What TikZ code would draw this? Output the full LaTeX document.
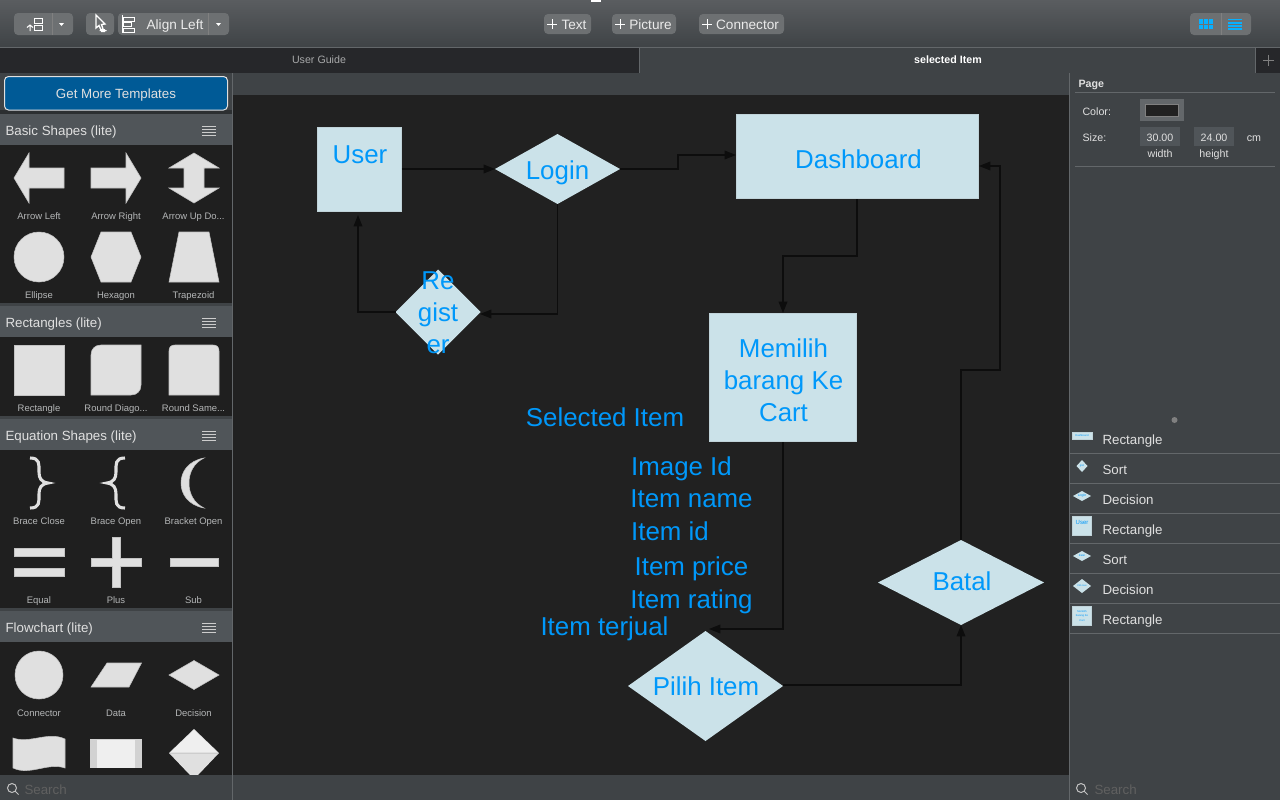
\documentclass[tikz,border=0pt]{standalone}
\usepackage{fontspec}
\setmainfont{Liberation Sans}
\usetikzlibrary{shapes.geometric,arrows.meta}

\definecolor{canvasdark}{HTML}{212121}
\definecolor{paneldark}{HTML}{1F1F1F}
\definecolor{panelgrey}{HTML}{3F4346}
\definecolor{headgrey}{HTML}{505559}
\definecolor{tabdark}{HTML}{26272A}
\definecolor{bartop}{HTML}{5A5D60}
\definecolor{barline}{HTML}{63676A}
\definecolor{btngrey}{HTML}{6D7072}
\definecolor{morebtn}{HTML}{005A96}
\definecolor{shapefill}{HTML}{CBE2E9}
\definecolor{shapetext}{HTML}{0098FA}
\definecolor{iconfill}{HTML}{E0E0E0}
\definecolor{labelgrey}{HTML}{B4B6B7}
\definecolor{toggleblue}{HTML}{08B0FF}

\tikzset{every picture/.style={line width=0.75pt}}
\tikzset{
  oneline/.style={text height=0.72*#1pt,text depth=0pt},
  flowbox/.style 2 args={rectangle,fill=shapefill,draw=shapefill!85!gray,line width=0.4pt,inner sep=0pt,outer sep=0pt,minimum width=#1*0.75pt,minimum height=#2*0.75pt},
  flowdiamond/.style 2 args={diamond,fill=shapefill,inner sep=0pt,outer sep=0pt,minimum width=#1*0.75pt,minimum height=#2*0.75pt},
  flowtext/.style={text=shapetext,inner sep=0pt,align=center,font=\fontsize{19.4}{24}\selectfont},
  flowline/.style={flowtext,oneline=19.4},
  conn/.style={draw=black!95,line width=1pt,-{Triangle[length=8.5pt,width=6.5pt]}},
  icon/.style={fill=iconfill,draw=iconfill!70!gray,line width=0.4pt},
  iconlabel/.style={oneline=7.1,text=labelgrey,inner sep=0pt,font=\fontsize{7.1}{8}\selectfont},
  headlabel/.style={oneline=10,text=iconfill,inner sep=0pt,anchor=west,font=\fontsize{10}{12}\selectfont},
  listlabel/.style={oneline=10,text=iconfill,inner sep=0pt,anchor=west,font=\fontsize{10}{12}\selectfont},
  pagelabel/.style={oneline=8,text=iconfill,inner sep=0pt,font=\fontsize{8}{10}\selectfont},
  barlabel/.style={oneline=10.2,text=white!92!black,inner sep=0pt,font=\fontsize{10.2}{12}\selectfont},
  searchlabel/.style={oneline=10,text=gray!75!black,inner sep=0pt,anchor=west,font=\fontsize{10}{12}\selectfont},
  thumbtext/.style={text=shapetext,inner sep=0pt,align=center},
  btn/.style={fill=btngrey,rounded corners=3pt,draw=none},
}

\begin{document}
\begin{tikzpicture}[x=0.75pt,y=0.75pt,yscale=-1,xscale=1]
\useasboundingbox (0,0) rectangle (1280,800);

%Shape: window backgrounds
\fill [panelgrey] (0,0) rectangle (1280,800);
\shade [top color=bartop,bottom color=panelgrey] (0,0) rectangle (1280,47);
\fill [white] (591,0) rectangle (601,2);
\draw [barline] (0,47.5) -- (1280,47.5);
\fill [tabdark] (0,48) rectangle (639,73);
\fill [tabdark] (1256,48) rectangle (1280,73);
\draw [barline] (639.5,48) -- (639.5,73);
\draw [barline] (1255.5,48) -- (1255.5,73);
\draw [gray] (1263,60) -- (1274,60) (1268.5,54.5) -- (1268.5,65.5);
\fill [canvasdark] (233,95) rectangle (1069,775);
\draw [barline] (232.5,73) -- (232.5,800);
\draw [barline] (1069.5,73) -- (1069.5,800);

%Shape: toolbar buttons
\fill [btn] (14,13) rectangle (73,35);
\fill [btn] (86,13) rectangle (114,35);
\fill [btn] (118,13) rectangle (229,35);
\draw [gray] (52.5,13) -- (52.5,35);
\draw [gray] (208.5,13) -- (208.5,35);
\draw [white] (34,18.5) -- (42,18.5) -- (42,23) -- (34,23) -- cycle (34,25.5) -- (42,25.5) -- (42,30) -- (34,30) -- cycle;
\draw [white] (30,31) -- (30,25) (27,27.5) -- (30,25) -- (33,27.5);
\fill [white] (59,23) -- (64,23) -- (61.5,26) -- cycle;
\fill [white] (216,23) -- (221,23) -- (218.5,26) -- cycle;
\draw [white,line width=1pt] (96,15) -- (96,28) -- (99,25.5) -- (101,30) -- (103,29) -- (101.5,24.5) -- (105,24) -- cycle;
\fill [white] (101,29) rectangle (105,32) (99.5,30) rectangle (106.5,31);
\draw [white] (122.5,15) -- (122.5,33) (123,17) rectangle (134,21) (123,22.5) rectangle (131,26.5) (123,28) rectangle (134,32);
\node [barlabel] (alignlabel) at (175,24.5) {Align Left};
\fill [btn] (544,14) rectangle (591,34);
\fill [btn] (612,14) rectangle (676,34);
\fill [btn] (699,14) rectangle (784,34);
\draw [white] (547,24) -- (557,24) (552,19) -- (552,29);
\draw [white] (615,24) -- (625,24) (620,19) -- (620,29);
\draw [white] (702,24) -- (712,24) (707,19) -- (707,29);
\node [barlabel] (textlabel) at (574,24.5) {Text};
\node [barlabel] (picturelabel) at (650.5,24.5) {Picture};
\node [barlabel] (connectorlabel) at (747.5,24.5) {Connector};
\fill [btn] (1190,13) rectangle (1251,35);
\draw [gray] (1221.5,13) -- (1221.5,35);
\foreach \gx in {1199,1204,1209}
  \foreach \gy in {19,24.7}
    \fill [toggleblue] (\gx,\gy) rectangle (\gx+4.3,\gy+4.5);
\foreach \gy in {19.5,23,26,29}
  \draw [toggleblue,line width=0.9pt] (1228,\gy) -- (1242,\gy);

% Text Node
\node [oneline=8,text=labelgrey!75!gray,inner sep=0pt,font=\fontsize{8}{10}\selectfont] (guidelabel) at (319,60) {User Guide};
% Text Node
\node [oneline=8,text=white,inner sep=0pt,font=\fontsize{8}{10}\bfseries\selectfont] (selectedtab) at (948,60) {selected Item};

%Shape: templates button
\fill [black!30!panelgrey] (0,110) rectangle (232,114);
\draw [fill=morebtn,draw=iconfill,rounded corners=3pt] (4.5,76.5) rectangle (227.5,110);
\node [oneline=10,text=iconfill,inner sep=0pt,font=\fontsize{10}{12}\selectfont] (morelabel) at (116,93.5) {Get More Templates};

%Shape: left panel sections
\fill [headgrey] (0,114) rectangle (232,145);
\fill [paneldark] (0,145) rectangle (232,303);
\fill [headgrey] (0,306) rectangle (232,337);
\fill [paneldark] (0,337) rectangle (232,416);
\fill [headgrey] (0,419) rectangle (232,450);
\fill [paneldark] (0,450) rectangle (232,608);
\fill [headgrey] (0,611) rectangle (232,642);
\fill [paneldark] (0,642) rectangle (232,775);
\foreach \hy in {130,322,435,627}
  \foreach \ly in {-4,-1,2,5}
    \draw [iconfill!80!gray,line width=0.5pt] (202,\hy+\ly) -- (216,\hy+\ly);

% Text Node
\node [headlabel] (basichead) at (5,130.5) {Basic Shapes (lite)};
\node [headlabel] (recthead) at (5,322.5) {Rectangles (lite)};
\node [headlabel] (equationhead) at (5,435.5) {Equation Shapes (lite)};
\node [headlabel] (flowhead) at (5,627.5) {Flowchart (lite)};

%Shape: template icons
\path [icon] (14,178) -- (29,153) -- (29,168) -- (64,168) -- (64,188) -- (29,188) -- (29,203) -- cycle;
\path [icon] (141,178) -- (126,153) -- (126,168) -- (91,168) -- (91,188) -- (126,188) -- (126,203) -- cycle;
\path [icon] (194,153) -- (219,168) -- (204,168) -- (204,188) -- (219,188) -- (194,203) -- (169,188) -- (184,188) -- (184,168) -- (169,168) -- cycle;
\path [icon] (39,257) circle [radius=25];
\path [icon] (91,257) -- (101,232) -- (131,232) -- (141,257) -- (131,282) -- (101,282) -- cycle;
\path [icon] (179,232) -- (209,232) -- (219,282) -- (169,282) -- cycle;
\path [icon] (14,345) rectangle (64,395);
\path [icon] (101,345) -- (141,345) -- (141,385) .. controls (141,391) and (137,395) .. (131,395) -- (91,395) -- (91,355) .. controls (91,349) and (95,345) .. (101,345) -- cycle;
\path [icon] (175,345) -- (213,345) .. controls (217,345) and (219,347) .. (219,351) -- (219,395) -- (169,395) -- (169,351) .. controls (169,347) and (171,345) .. (175,345) -- cycle;
\draw [iconfill,line width=2.3pt] (30,458) .. controls (40,458) and (39,464) .. (39,472) .. controls (39,478) and (41,482) .. (48,483) .. controls (41,484) and (39,488) .. (39,494) .. controls (39,502) and (40,508) .. (30,508);
\draw [iconfill,line width=2.3pt] (125,458) .. controls (115,458) and (116,464) .. (116,472) .. controls (116,478) and (114,482) .. (107,483) .. controls (114,484) and (116,488) .. (116,494) .. controls (116,502) and (115,508) .. (125,508);
\path [icon] (204,458) .. controls (188,461) and (181,472) .. (181,483) .. controls (181,494) and (188,505) .. (204,508) .. controls (194,503) and (189,494) .. (189,483) .. controls (189,472) and (194,463) .. (204,458) -- cycle;
\path [icon] (14,548) rectangle (64,556) (14,568) rectangle (64,576);
\path [icon] (112,537) -- (120,537) -- (120,558) -- (141,558) -- (141,566) -- (120,566) -- (120,587) -- (112,587) -- (112,566) -- (91,566) -- (91,558) -- (112,558) -- cycle;
\path [icon] (170,558) rectangle (218,566);
\path [icon] (39,675) circle [radius=24];
\path [icon] (107,663) -- (141.5,663) -- (129,687) -- (91,687) -- cycle;
\path [icon] (169,675) -- (194,660.5) -- (219,675) -- (194,689.5) -- cycle;
\path [icon] (13,738) .. controls (30,744) and (48,731) .. (65,739) -- (65,768) .. controls (48,762) and (30,776) .. (13,768) -- cycle;
\fill [iconfill!85!gray] (90,739) rectangle (142,768);
\fill [white!50!iconfill] (97,739.5) rectangle (135,767.5);
\fill [iconfill] (194,729) -- (219,753) -- (198,775) -- (190,775) -- (169,753) -- cycle;
\fill [white!50!iconfill] (194,730) -- (217,752) -- (171,752) -- cycle;
\draw [iconfill!80!gray] (170,753.5) -- (218,753.5);

% Text Node
\node [iconlabel] (arrowleftlabel) at (39,216.5) {Arrow Left};
\node [iconlabel] (arrowrightlabel) at (116,216.5) {Arrow Right};
\node [iconlabel] (arrowupdownlabel) at (193.5,216.5) {Arrow Up Do...};
\node [iconlabel] (ellipselabel) at (39,295.5) {Ellipse};
\node [iconlabel] (hexagonlabel) at (116,295.5) {Hexagon};
\node [iconlabel] (trapezoidlabel) at (193.5,295.5) {Trapezoid};
\node [iconlabel] (rectanglelabel) at (39,408.5) {Rectangle};
\node [iconlabel] (rounddiaglabel) at (116,408.5) {Round Diago...};
\node [iconlabel] (roundsamelabel) at (193.5,408.5) {Round Same...};
\node [iconlabel] (braceclose) at (39,521.5) {Brace Close};
\node [iconlabel] (braceopen) at (116,521.5) {Brace Open};
\node [iconlabel] (bracketopen) at (193.5,521.5) {Bracket Open};
\node [iconlabel] (equallabel) at (39,600.5) {Equal};
\node [iconlabel] (pluslabel) at (116,600.5) {Plus};
\node [iconlabel] (sublabel) at (193.5,600.5) {Sub};
\node [iconlabel] (connectorname) at (39,713.5) {Connector};
\node [iconlabel] (datalabel) at (116,713.5) {Data};
\node [iconlabel] (decisionlabel) at (193.5,713.5) {Decision};

%Shape: search boxes
\fill [panelgrey] (0,775) rectangle (232,800);
\draw [iconfill!70!gray] (12,788) circle [radius=4.5] (15.2,791.2) -- (18.5,794.5);
\draw [iconfill!70!gray] (1081,788) circle [radius=4.5] (1084.2,791.2) -- (1087.5,794.5);
\node [searchlabel] (searchleft) at (24,789.5) {Search};
\node [searchlabel] (searchright) at (1094,789.5) {Search};

%Shape: page inspector
\draw [barline] (1075,92.5) -- (1275,92.5);
\draw [barline] (1075,166.5) -- (1275,166.5);
\fill [barline] (1140,99) rectangle (1184,121);
\draw [fill=canvasdark,draw=gray] (1145.5,104.5) rectangle (1178.5,116.5);
\fill [headgrey] (1140,127) rectangle (1180,146);
\fill [headgrey] (1194,127) rectangle (1234,146);
\node [oneline=8,text=iconfill,inner sep=0pt,anchor=west,font=\fontsize{8}{10}\bfseries\selectfont] (pagetitle) at (1078,83.5) {Page};
\node [pagelabel,anchor=west] (colorlabel) at (1082,111.5) {Color:};
\node [pagelabel,anchor=west] (sizelabel) at (1082,137.5) {Size:};
\node [pagelabel] (widthvalue) at (1160,137.5) {30.00};
\node [pagelabel] (heightvalue) at (1214,137.5) {24.00};
\node [pagelabel] (cmlabel) at (1254,137.5) {cm};
\node [pagelabel] (widthlabel) at (1160,153.5) {width};
\node [pagelabel] (heightlabel) at (1214,153.5) {height};

%Shape: layer list
\fill [gray] (1174.5,420) circle [radius=3];
\foreach \ly in {453,483,513,543,573,603,633}
  \draw [barline] (1070,\ly+0.5) -- (1280,\ly+0.5);
\node [listlabel] (layerone) at (1102,439.5) {Rectangle};
\node [listlabel] (layertwo) at (1102,469.5) {Sort};
\node [listlabel] (layerthree) at (1102,499.5) {Decision};
\node [listlabel] (layerfour) at (1102,529.5) {Rectangle};
\node [listlabel] (layerfive) at (1102,559.5) {Sort};
\node [listlabel] (layersix) at (1102,589.5) {Decision};
\node [listlabel] (layerseven) at (1102,619.5) {Rectangle};

%Shape: layer thumbnails
\node [flowbox={20}{7}] (thumbdash) at (1082,436) {};
\node [flowdiamond={11}{12}] (thumbreg) at (1082,466) {};
\node [flowdiamond={18}{10}] (thumblogin) at (1082,496) {};
\node [flowbox={19}{19}] (thumbuser) at (1082,526) {};
\node [flowdiamond={18}{10}] (thumbbatal) at (1082,556) {};
\node [flowdiamond={18}{14}] (thumbpilih) at (1082,586) {};
\node [flowbox={19}{19}] (thumbcart) at (1082,616) {};
\node [thumbtext,font=\fontsize{2}{2}\selectfont] (thumbdashtext) at (1082,436) {Dashboard};
\node [thumbtext,font=\fontsize{2}{2.4}\selectfont] (thumbregtext) at (1082,466) {gist};
\node [thumbtext,font=\fontsize{2.6}{3}\selectfont] (thumblogintext) at (1082,496) {Login};
\node [thumbtext,font=\fontsize{4.5}{5}\selectfont] (thumbusertext) at (1082,522) {User};
\node [thumbtext,font=\fontsize{2}{2.4}\selectfont] (thumbbatalext) at (1082,556) {Batal};
\node [thumbtext,font=\fontsize{1.7}{2}\selectfont] (thumbpilihtext) at (1082,586) {Pilih Item};
\node [thumbtext,font=\fontsize{2}{3.2}\selectfont] (thumbcarttext) at (1082,616) {Memilih\\barang Ke\\Cart};

%Shape: flowchart shapes
\node [flowbox={84.5}{84.5}] (user) at (359.5,169.5) {};
\node [flowdiamond={125}{70}] (login) at (557.5,169) {};
\node [flowbox={242.5}{84.5}] (dashboard) at (857.5,156.5) {};
\node [flowdiamond={85}{85}] (register) at (438,312) {};
\node [flowbox={147.5}{128.5}] (memilih) at (783,377.5) {};
\node [flowdiamond={155}{110}] (pilih) at (705.5,686) {};
\node [flowdiamond={166}{85}] (batal) at (961,582.5) {};

%Straight Lines [free connector ends]
\coordinate (loginin) at (736,155);
\coordinate (loginbend) at (678,169);
\coordinate (regin) at (480,314);
\coordinate (userin) at (358,215);
\coordinate (memilihin) at (783,313);
\coordinate (dashout) at (857,199);
\coordinate (dashbend) at (857,256);
\coordinate (memilihout) at (783,442);
\coordinate (pilihin) at (709,629);
\coordinate (pilihout) at (783,685);
\coordinate (batalin) at (961,625);
\coordinate (batalbend) at (1000,370);
\coordinate (dashin) at (979,166);

\draw [conn] (user.east |- login.west) -- (login.west);
\draw [conn] (login.east) -- (loginbend) -- (loginbend |- loginin) -- (loginin);
\draw [conn] (login.south) |- (regin);
\draw [conn] (register.west) -| (userin);
\draw [conn] (dashout) -- (dashbend) -| (memilihin);
\draw [conn] (memilihout) |- (pilihin);
\draw [conn] (pilihout) -| (batalin);
\draw [conn] (batal.north) |- (batalbend) |- (dashin);

% Text Node
\node [flowline] (usertext) at (360,154.2) {User};
\node [flowline] (logintext) at (557.5,170) {Login};
\node [flowline] (dashboardtext) at (858.5,159) {Dashboard};
\node [flowtext] (registertext) at (438,312.5) {Re\\gist\\er};
\node [flowtext] (memilihtext) at (783.5,380) {Memilih\\barang Ke\\Cart};
\node [flowline] (selectedtext) at (605,416.7) {Selected Item};
\node [flowline] (imagetext) at (681.5,466) {Image Id};
\node [flowline] (nametext) at (691.5,498) {Item name};
\node [flowline] (idtext) at (670,531.5) {Item id};
\node [flowline] (pricetext) at (691.5,566) {Item price};
\node [flowline] (ratingtext) at (691.5,599.5) {Item rating};
\node [flowline] (terjualtext) at (604.5,626) {Item terjual};
\node [flowline] (pilihtext) at (706,686) {Pilih Item};
\node [flowline] (bataltext) at (962,581) {Batal};

\end{tikzpicture}
\end{document}
